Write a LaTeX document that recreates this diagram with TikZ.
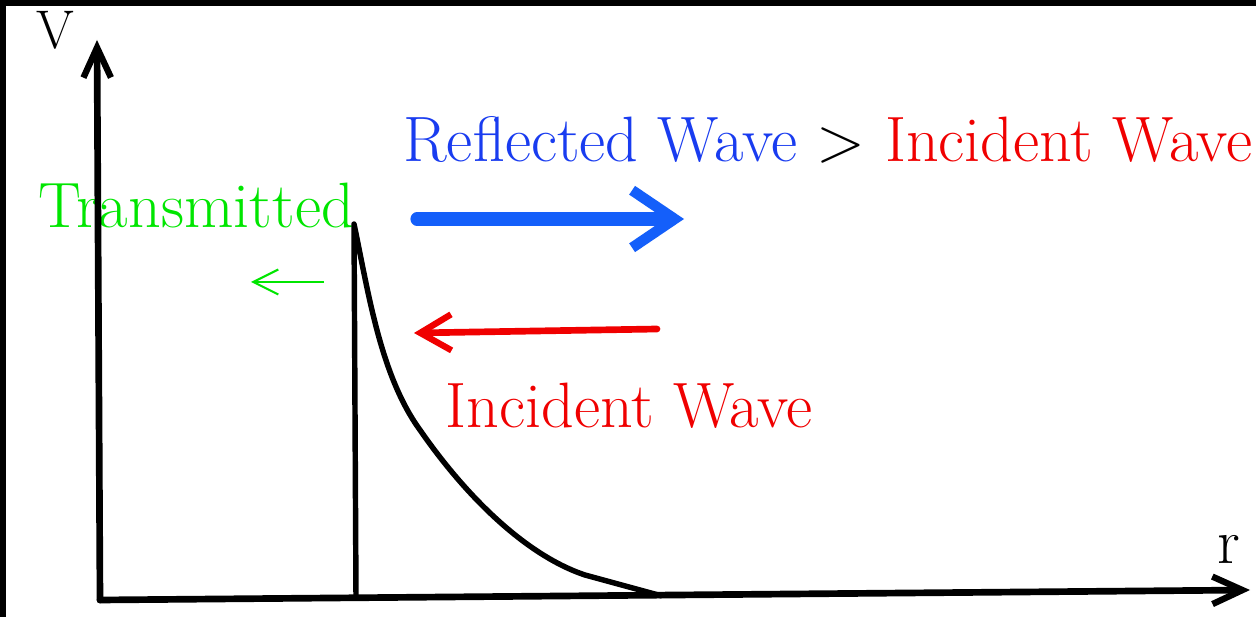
\documentclass[tikz,border=0pt]{standalone}
\usepackage{fontspec}
\usepackage{tikz}
\usetikzlibrary{arrows.meta}

\definecolor{wavered}{RGB}{240,0,0}
\definecolor{waveblue}{RGB}{25,60,240}
\definecolor{arrowblue}{RGB}{20,95,250}
\definecolor{transgreen}{RGB}{0,230,0}

\begin{document}
\begin{tikzpicture}[x=0.02cm, y=-0.02cm,
        axis/.style={line width=3.8pt, line cap=round, -{Straight Barb[length=0.6cm, width=0.55cm, line width=3.6pt]}},
        wall/.style={line width=3.1pt, line join=round},
        label/.style={font=\fontsize{36.5}{44}\selectfont, inner sep=0pt, anchor=base west},
        reflarrow/.style={arrowblue, line width=7.5pt, line cap=round, -{Straight Barb[length=0.85cm, width=1.15cm, line width=6pt]}},
        incarrow/.style={wavered, line width=3.8pt, line cap=round, -{Straight Barb[length=0.62cm, width=0.72cm, line width=3.6pt]}},
        transarrow/.style={transgreen, line width=1.2pt, -{Straight Barb[length=0.5cm, width=0.5cm, line width=1.2pt]}}
    ]
        % Frame
        \fill[black] (0,0) rectangle (1256,617);
        \fill[white] (6,6) rectangle (1256,617);
        \useasboundingbox (0,0) rectangle (1256,617);

        % Nodes
        \coordinate (origin) at (100,600);
        \coordinate (vtop) at (97,40);
        \coordinate (rend) at (1250,590);
        \coordinate (foot) at (356,598);
        \coordinate (peak) at (354,224);
        \coordinate (tail) at (662,596);
        \node[label, font=\fontsize{31}{37}\selectfont] (vlab) at (36,49) {V};
        \node[label] (rlab) at (1217,563) {r};
        \node[label, transgreen] (trans) at (38,228) {Transmitted};
        \node[label] (ratio) at (403,162) {\textcolor{waveblue}{Reflected Wave} > \textcolor{wavered}{Incident Wave}};
        \node[label, wavered] (inc) at (445,428) {Incident Wave};
        \coordinate (bluestart) at (417,219);
        \coordinate (blueend) at (684,219);
        \coordinate (redstart) at (657,329);
        \coordinate (redend) at (414,333);
        \coordinate (greenstart) at (324,282);
        \coordinate (greenend) at (251,282);

        % Edges
        \draw[axis] (origin) -- (vtop);
        \draw[axis] (origin) -- (rend);
        \draw[wall] (foot) -- (peak) .. controls (368,290) and (380,375) .. (420,430)
            .. controls (465,495) and (525,555) .. (585,575) -- (tail);
        \draw[reflarrow] (bluestart) -- (blueend);
        \draw[incarrow] (redstart) -- (redend);
        \draw[transarrow] (greenstart) -- (greenend);

    \end{tikzpicture}
\end{document}
